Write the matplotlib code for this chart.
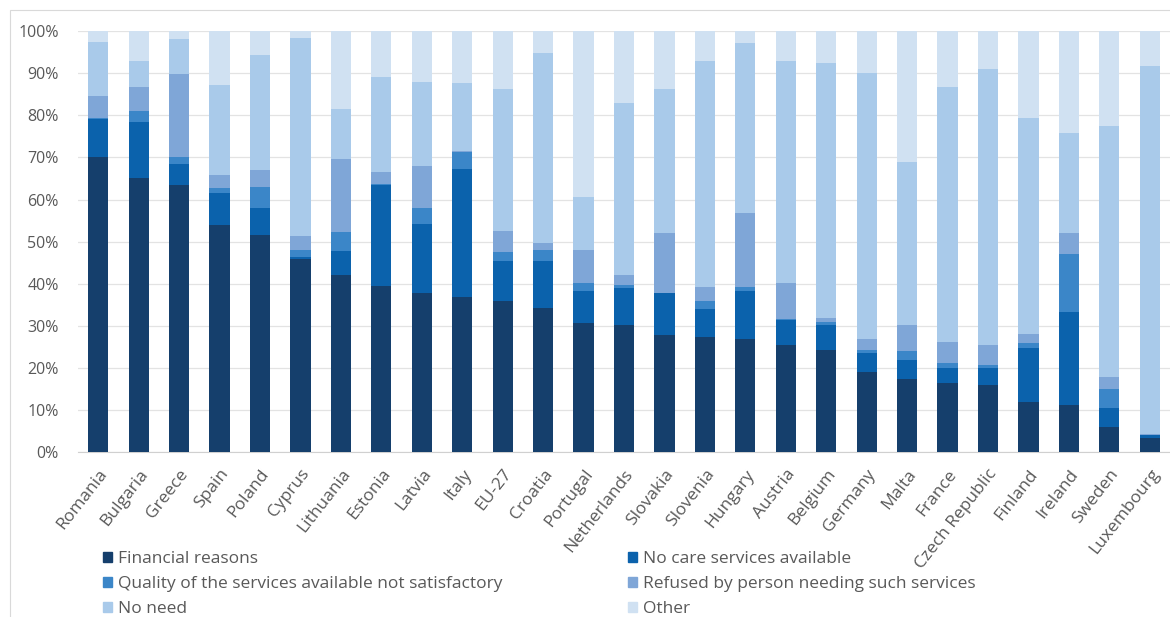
import numpy as np
import matplotlib
matplotlib.use('Agg')
import matplotlib.pyplot as plt
from matplotlib.patches import Rectangle, Patch

countries = ["Romania", "Bulgaria", "Greece", "Spain", "Poland", "Cyprus", "Lithuania",
             "Estonia", "Latvia", "Italy", "EU-27", "Croatia", "Portugal", "Netherlands",
             "Slovakia", "Slovenia", "Hungary", "Austria", "Belgium", "Germany", "Malta",
             "France", "Czech Republic", "Finland", "Ireland", "Sweden", "Luxembourg"]

# shares in % per reason, same order as countries
financial = [70.0, 65.1, 63.4, 54.0, 51.6, 45.8, 42.2, 39.5, 37.7, 36.8, 35.8, 34.2, 30.8, 30.2,
             27.8, 27.3, 26.8, 25.5, 24.3, 19.1, 17.4, 16.4, 16.0, 11.9, 11.2, 6.1, 3.3]
no_care = [9.1, 13.4, 5.0, 7.5, 6.5, 0.6, 5.6, 24.0, 16.4, 30.4, 9.6, 11.2, 7.6, 8.9,
           9.9, 6.7, 11.6, 5.9, 5.9, 4.4, 4.5, 3.7, 3.9, 12.8, 22.2, 4.5, 0.8]
quality = [0.2, 2.4, 1.6, 1.2, 4.9, 1.6, 4.5, 0.3, 3.9, 4.0, 2.1, 2.6, 1.7, 0.5,
           0.2, 1.8, 0.8, 0.2, 0.8, 0.8, 2.2, 1.2, 0.8, 1.2, 13.7, 4.4, 0.1]
refused = [5.2, 5.7, 19.7, 3.2, 3.9, 3.4, 17.3, 2.8, 10.0, 0.2, 5.0, 1.6, 7.9, 2.5,
           14.1, 3.4, 17.7, 8.7, 0.8, 2.6, 6.1, 4.8, 4.8, 2.2, 4.9, 2.8, 0.2]
no_need = [12.9, 6.3, 8.3, 21.3, 27.3, 46.9, 11.9, 22.6, 19.9, 16.2, 33.7, 45.1, 12.5, 40.9,
           34.2, 53.7, 40.2, 52.6, 60.7, 63.1, 38.6, 60.5, 65.4, 51.3, 23.9, 59.7, 87.3]
other = [2.6, 7.1, 2.0, 12.8, 5.8, 1.7, 18.5, 10.8, 12.1, 12.4, 13.8, 5.3, 39.5, 17.0,
         13.8, 7.1, 2.9, 7.1, 7.5, 10.0, 31.2, 13.4, 9.1, 20.6, 24.1, 22.5, 8.3]

series = ["Financial reasons", "No care services available",
          "Quality of the services available not satisfactory",
          "Refused by person needing such services", "No need", "Other"]
colors = ['#153F6C', '#0B62AC', '#3B86C8', '#7FA6D7', '#A9CAEA', '#D0E1F2']

plt.rcParams['font.family'] = ['Open Sans', 'DejaVu Sans']
txt = '#595959'

fig = plt.figure(figsize=(11.7, 6.17), dpi=100)
ax = fig.add_axes([78 / 1170, 1 - 452.3 / 617, 1092 / 1170, 421.3 / 617])

x = np.arange(len(countries))
bottom = np.zeros(len(countries))
for vals, col in zip([financial, no_care, quality, refused, no_need, other], colors):
    v = np.array(vals)
    ax.bar(x, v, 0.5, bottom=bottom, color=col, zorder=3)
    bottom += v

ax.set_xlim(-0.5, len(countries) - 0.5)
ax.set_ylim(0, 100)
ax.set_yticks(np.arange(0, 101, 10))
ax.set_yticklabels([f"{t}%" for t in range(0, 101, 10)], color=txt, fontsize=11.5)
ax.set_xticks(x)
ax.set_xticklabels(countries, rotation=52, ha='right', rotation_mode='anchor',
                   color=txt, fontsize=12.5)
ax.tick_params(axis='both', length=0)
ax.tick_params(axis='y', pad=14)
ax.tick_params(axis='x', pad=10)
ax.grid(axis='y', color='#E3E3E3', lw=0.9, zorder=0)
for s in ['top', 'right', 'left']:
    ax.spines[s].set_visible(False)
ax.spines['bottom'].set_color('#D0D0D0')

# legend: two columns, each one its own legend box
handles = [Patch(color=c) for c in colors]
leg_kw = dict(loc='upper left', frameon=False, fontsize=12.5, labelcolor=txt,
              handlelength=0.5, handleheight=0.5, handletextpad=0.35,
              labelspacing=0.52, borderaxespad=0, borderpad=0)
for col, x0 in [([0, 2, 4], 103), ([1, 3, 5], 628)]:
    fig.legend([handles[i] for i in col], [series[i] for i in col],
               bbox_to_anchor=(x0 / 1170, 1 - 551 / 617), **leg_kw)

# thin frame around chart area
fig.patches.append(Rectangle((10 / 1170, -0.05), 1.1, 1 - 10 / 617 + 0.05,
                             transform=fig.transFigure, fill=False,
                             edgecolor='#D9D9D9', lw=0.8))

fig.savefig('out.png', dpi=100)
